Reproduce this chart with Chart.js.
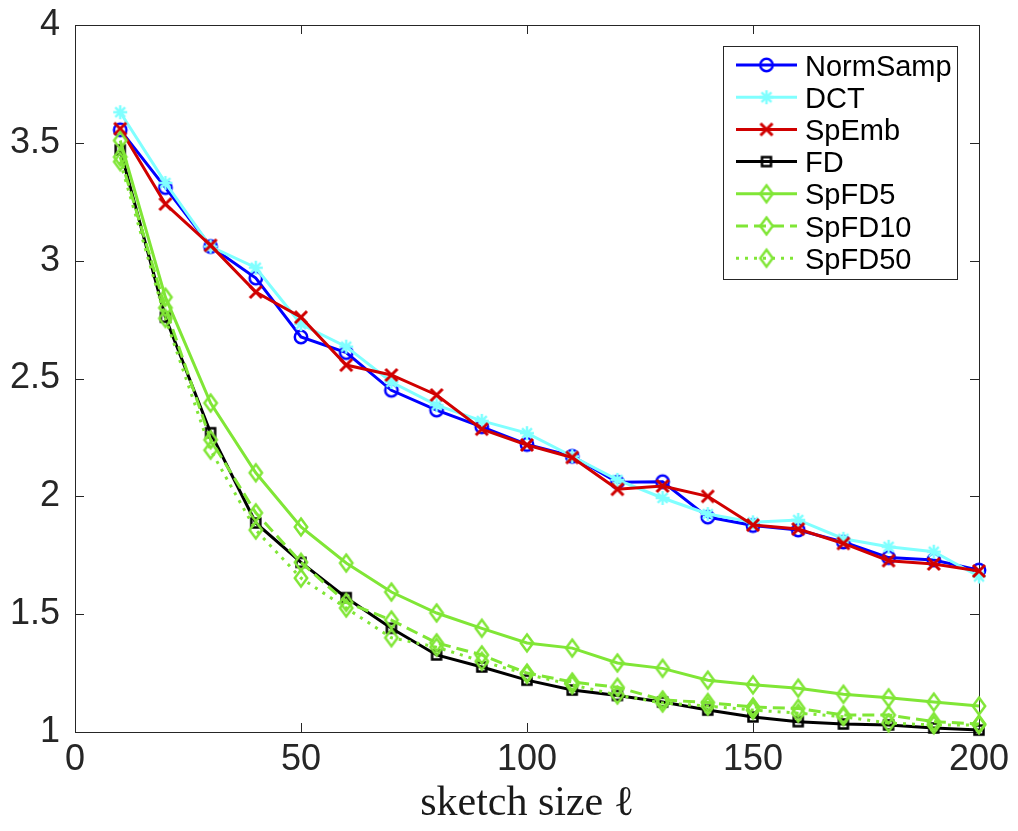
<!DOCTYPE html>
<html><head><meta charset="utf-8">
<script src="https://cdn.jsdelivr.net/npm/chart.js@4/dist/chart.umd.min.js"></script>
<style>html,body{margin:0;padding:0;background:#fff;} #wrap{width:1018px;height:831px;position:relative;}</style>
</head><body><div id="wrap"><canvas id="c" width="1018" height="831"></canvas></div>
<script>
// ---------- data ----------
const sketchSizes = [10,20,30,40,50,60,70,80,90,100,110,120,130,140,150,160,170,180,190,200];
const normSamp = [3.555,3.31,3.06,2.926,2.676,2.61,2.45,2.366,2.295,2.22,2.17,2.06,2.062,1.912,1.876,1.857,1.806,1.74,1.73,1.687];
const dct      = [3.63,3.33,3.06,2.97,2.73,2.635,2.485,2.387,2.32,2.268,2.17,2.07,1.993,1.925,1.89,1.90,1.82,1.786,1.765,1.66];
const spEmb    = [3.56,3.24,3.065,2.867,2.76,2.557,2.515,2.43,2.285,2.218,2.165,2.03,2.044,2.00,1.878,1.861,1.80,1.727,1.713,1.683];
const fd       = [3.47,2.76,2.27,1.887,1.72,1.57,1.44,1.327,1.276,1.22,1.178,1.155,1.127,1.093,1.064,1.044,1.034,1.03,1.017,1.008];
const spFD5    = [3.51,2.845,2.396,2.10,1.87,1.717,1.594,1.505,1.44,1.378,1.356,1.293,1.27,1.22,1.20,1.186,1.16,1.145,1.127,1.11];
const spFD10   = [3.44,2.80,2.24,1.93,1.72,1.55,1.475,1.378,1.327,1.25,1.212,1.19,1.136,1.125,1.106,1.10,1.072,1.072,1.044,1.034];
const spFD50   = [3.42,2.755,2.196,1.857,1.653,1.526,1.40,1.36,1.30,1.245,1.20,1.157,1.123,1.11,1.093,1.08,1.065,1.038,1.03,1.03];
const seriesNames = ['NormSamp','DCT','SpEmb','FD','SpFD5','SpFD10','SpFD50'];
const xTickValues = [0,50,100,150,200];
const xTickLabels = ['0','50','100','150','200'];
const yTickValues = [1,1.5,2,2.5,3,3.5,4];
const yTickLabels = ['1','1.5','2','2.5','3','3.5','4'];
const xTitle = 'sketch size \u2113';

// ---------- styles ----------
const GREEN = '#80e636';
const styles = [
  {color:'#0000ff', marker:'circle',  dash:[]},
  {color:'#80ffff', marker:'star',    dash:[]},
  {color:'#d00000', marker:'x',       dash:[]},
  {color:'#000000', marker:'square',  dash:[]},
  {color:GREEN,     marker:'diamond', dash:[]},
  {color:GREEN,     marker:'diamond', dash:[12,6]},
  {color:GREEN,     marker:'diamond', dash:[3,6]}
];
const seriesValues = [normSamp, dct, spEmb, fd, spFD5, spFD10, spFD50];

function makeMarker(kind, color) {
  const s = 28, m = s / 2;
  const c = document.createElement('canvas'); c.width = s; c.height = s;
  const g = c.getContext('2d');
  g.strokeStyle = color; g.lineWidth = 2.5; g.lineJoin = 'miter'; g.lineCap = 'butt';
  g.beginPath();
  if (kind === 'circle') { g.arc(m, m, 6.2, 0, Math.PI * 2); }
  else if (kind === 'star') {
    for (let a = 0; a < 4; a++) { const t = a * Math.PI / 4;
      g.moveTo(m - 7 * Math.cos(t), m - 7 * Math.sin(t)); g.lineTo(m + 7 * Math.cos(t), m + 7 * Math.sin(t)); }
  } else if (kind === 'x') {
    g.lineWidth = 3; g.moveTo(m - 6, m - 6); g.lineTo(m + 6, m + 6); g.moveTo(m + 6, m - 6); g.lineTo(m - 6, m + 6);
  } else if (kind === 'square') { g.rect(m - 4.5, m - 4.5, 9, 9); }
  else if (kind === 'diamond') {
    g.moveTo(m, m - 8.5); g.lineTo(m + 6.2, m); g.lineTo(m, m + 8.5); g.lineTo(m - 6.2, m); g.closePath();
  }
  g.stroke();
  return c;
}
const markers = styles.map(s => makeMarker(s.marker, s.color));

const datasets = seriesNames.map((name, i) => ({
  label: name,
  data: sketchSizes.map((x, j) => ({x: x, y: seriesValues[i][j]})),
  borderColor: styles[i].color,
  backgroundColor: 'rgba(0,0,0,0)',
  borderWidth: 3,
  borderDash: styles[i].dash,
  pointStyle: markers[i],
  pointRadius: 9,
  pointHoverRadius: 9,
  tension: 0,
  clip: false,
  order: seriesNames.length - 1 - i
}));

const AXIS = '#262626';
const TICKLEN = 9;
const framePlugin = {
  id: 'frame',
  beforeDatasetsDraw(chart) {
    const {ctx, chartArea: a, scales} = chart;
    ctx.save();
    ctx.strokeStyle = AXIS; ctx.lineWidth = 1;
    ctx.beginPath();
    ctx.rect(Math.round(a.left) + 0.5, Math.round(a.top) + 0.5, Math.round(a.right - a.left), Math.round(a.bottom - a.top));
    xTickValues.forEach(v => {
      const px = Math.round(scales.x.getPixelForValue(v)) + 0.5;
      ctx.moveTo(px, a.bottom); ctx.lineTo(px, a.bottom - TICKLEN);
      ctx.moveTo(px, a.top); ctx.lineTo(px, a.top + TICKLEN);
    });
    yTickValues.forEach(v => {
      const py = Math.round(scales.y.getPixelForValue(v)) + 0.5;
      ctx.moveTo(a.left, py); ctx.lineTo(a.left + TICKLEN, py);
      ctx.moveTo(a.right, py); ctx.lineTo(a.right - TICKLEN, py);
    });
    ctx.stroke();
    ctx.restore();
  }
};

const legendPlugin = {
  id: 'matlabLegend',
  afterDatasetsDraw(chart) {
    const ctx = chart.ctx;
    const bx = 723.5, by = 46.5, bw = 234, bh = 233;
    ctx.save();
    ctx.fillStyle = '#fff'; ctx.fillRect(bx, by, bw, bh);
    ctx.strokeStyle = AXIS; ctx.lineWidth = 1; ctx.strokeRect(bx, by, bw, bh);
    const x0 = 736, x1 = 797, xm = (x0 + x1) / 2;
    seriesNames.forEach((name, i) => {
      const y = 65 + i * 32.2;
      ctx.save();
      ctx.strokeStyle = styles[i].color; ctx.lineWidth = 3; ctx.setLineDash(styles[i].dash);
      ctx.beginPath(); ctx.moveTo(x0, y); ctx.lineTo(x1, y); ctx.stroke();
      ctx.restore();
      const mk = markers[i];
      ctx.drawImage(mk, xm - mk.width / 2, y - mk.height / 2);
      ctx.fillStyle = '#000'; ctx.font = '29px "Liberation Sans", Arial, sans-serif';
      ctx.textAlign = 'left'; ctx.textBaseline = 'alphabetic';
      ctx.fillText(name, 805, y + 10.5);
    });
    ctx.restore();
  }
};

new Chart(document.getElementById('c'), {
  type: 'line',
  data: {datasets},
  plugins: [framePlugin, legendPlugin],
  options: {
    responsive: false,
    animation: false,
    devicePixelRatio: 1,
    layout: {padding: {left: 0, right: 39, top: 25, bottom: 0}},
    plugins: {legend: {display: false}, tooltip: {enabled: false}, title: {display: false}},
    scales: {
      x: {
        type: 'linear', min: 0, max: 200,
        afterBuildTicks: s => { s.ticks = xTickValues.map(v => ({value: v})); },
        afterFit: s => { s.height = 99; s.paddingLeft = 0; s.paddingRight = 0; },
        grid: {display: false, drawTicks: false},
        border: {display: false},
        ticks: {
          padding: 6, color: AXIS, maxRotation: 0, autoSkip: false,
          font: {family: '"Liberation Sans", Arial, sans-serif', size: 36},
          callback: v => xTickLabels[xTickValues.indexOf(v)]
        },
        title: {
          display: true, text: xTitle, color: '#1a1a1a',
          font: {family: '"Liberation Serif", "Times New Roman", serif', size: 42},
          padding: {top: 0, bottom: 2}
        }
      },
      y: {
        type: 'linear', min: 1, max: 4,
        afterBuildTicks: s => { s.ticks = yTickValues.map(v => ({value: v})); },
        afterFit: s => { s.width = 75; s.paddingTop = 0; s.paddingBottom = 0; },
        grid: {display: false, drawTicks: false},
        border: {display: false},
        ticks: {
          padding: 15, color: AXIS, autoSkip: false,
          font: {family: '"Liberation Sans", Arial, sans-serif', size: 36},
          callback: v => yTickLabels[yTickValues.indexOf(v)]
        }
      }
    }
  }
});
</script>
</body></html>
